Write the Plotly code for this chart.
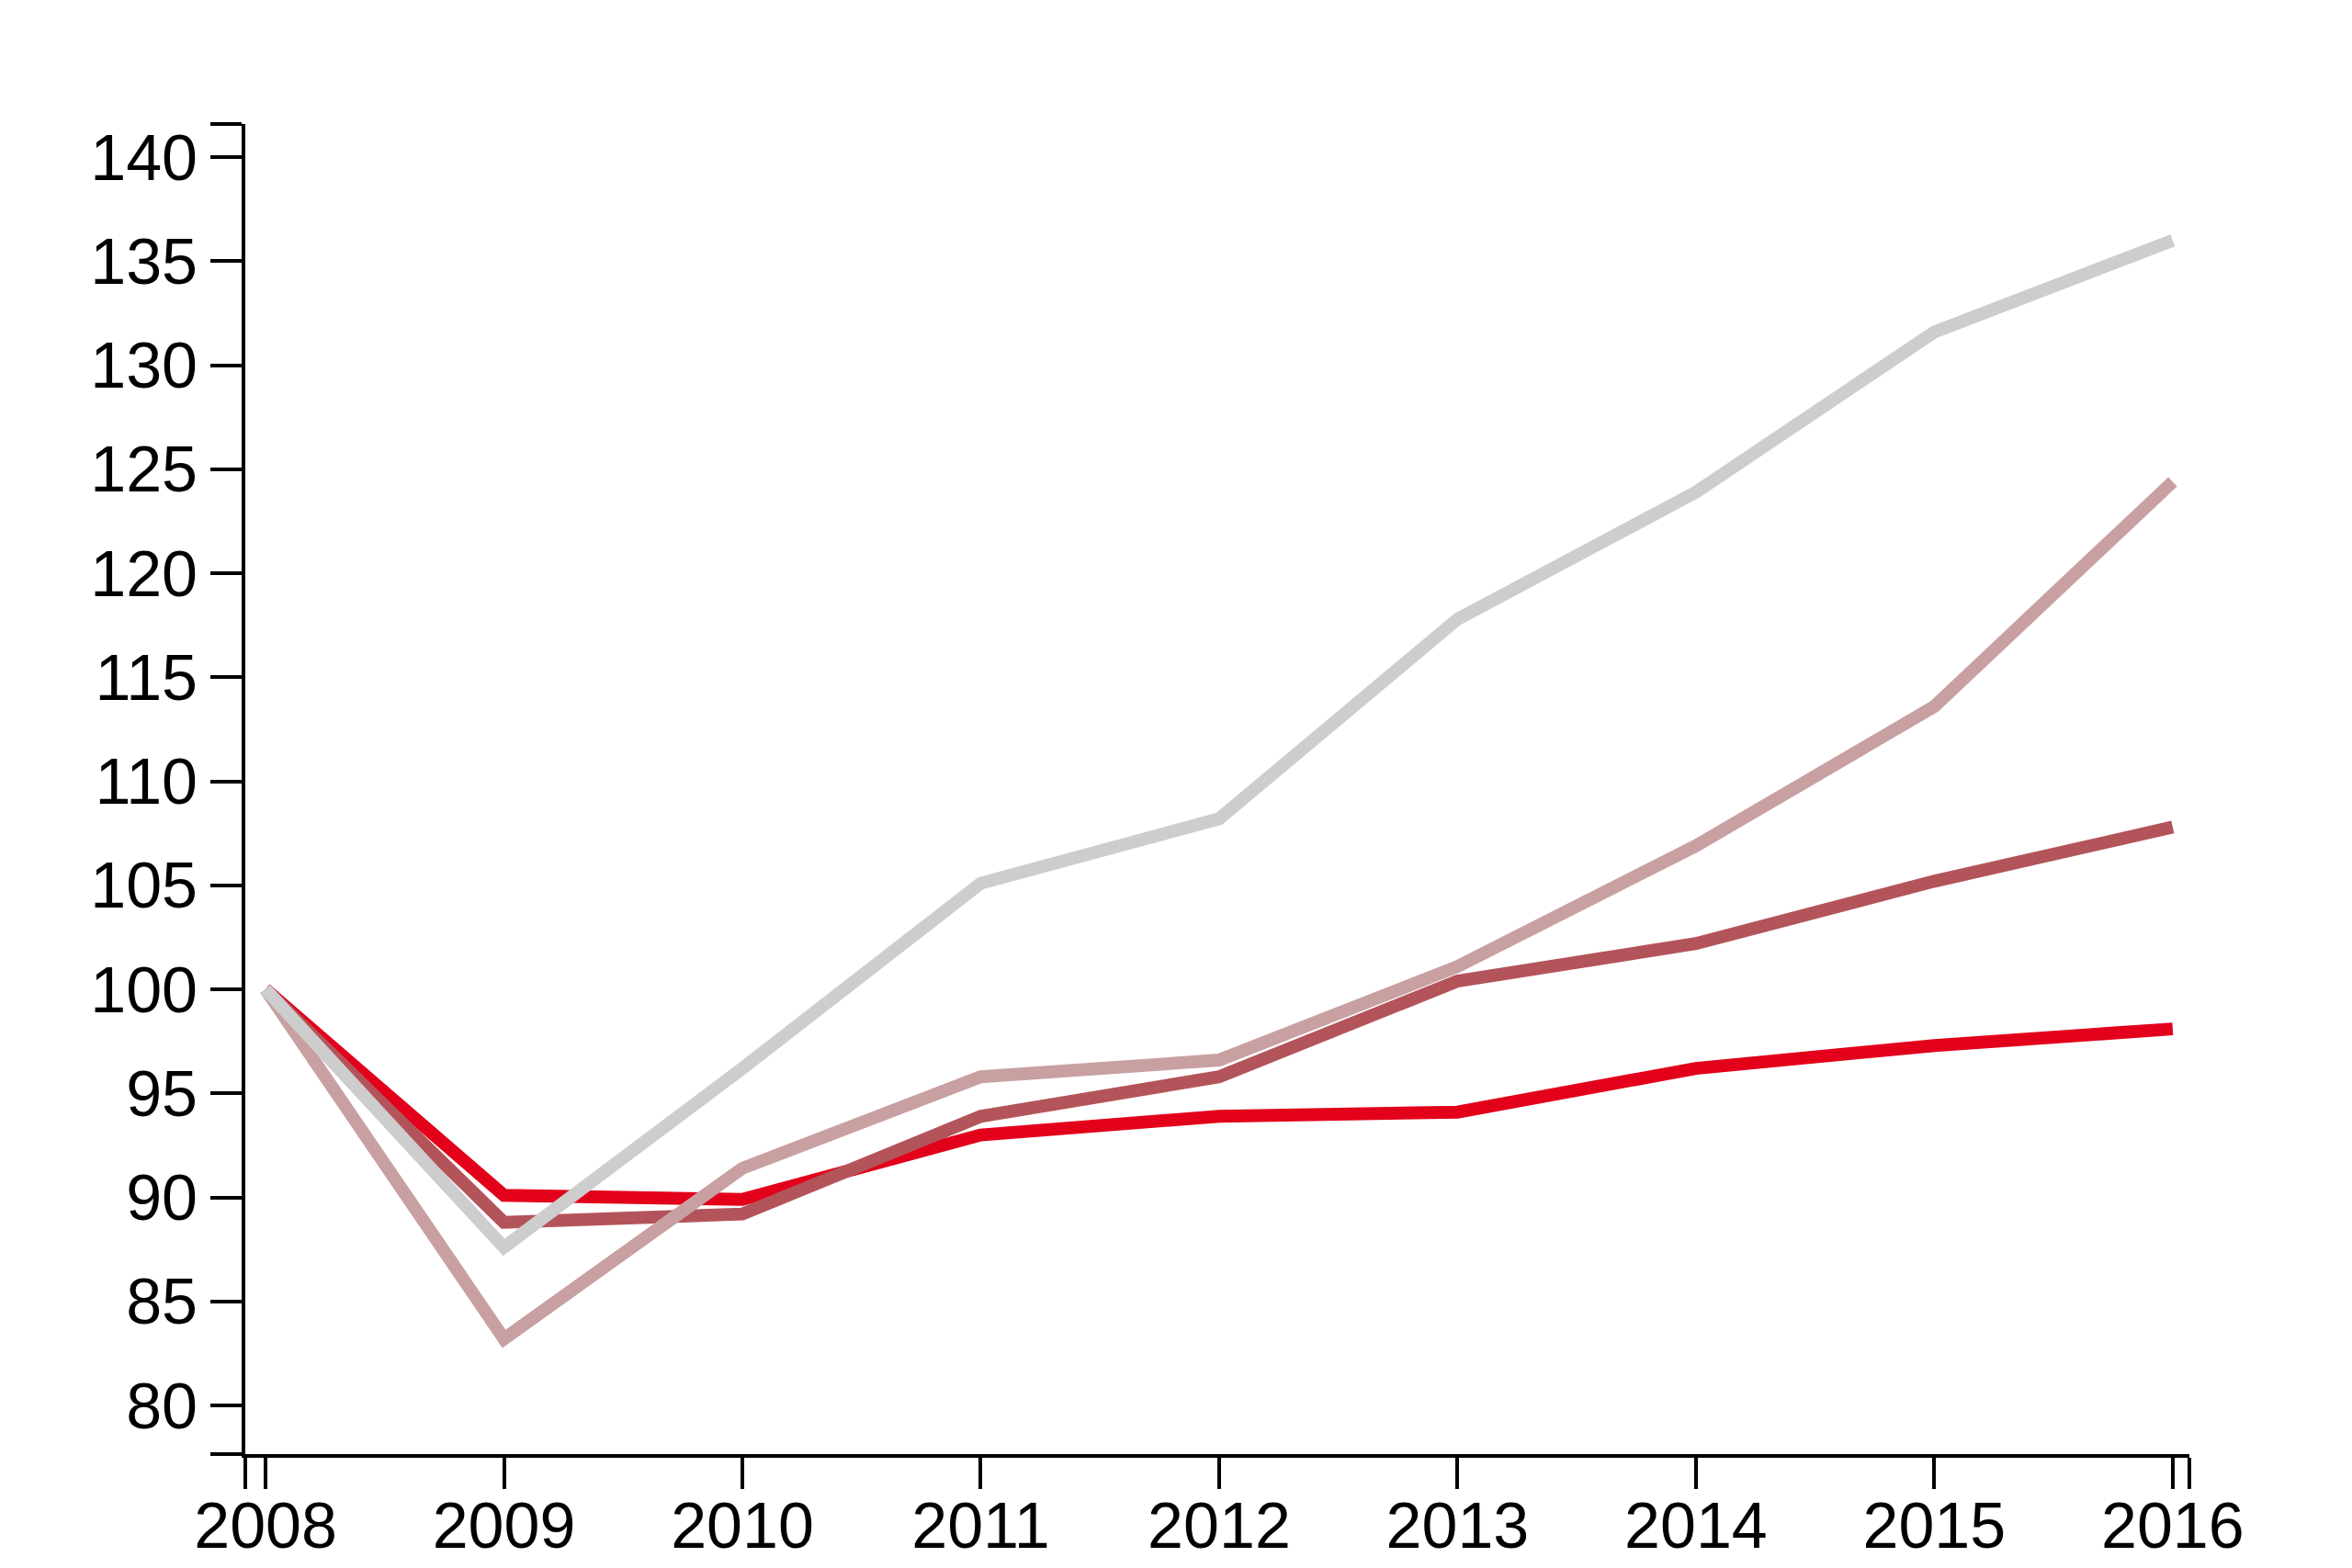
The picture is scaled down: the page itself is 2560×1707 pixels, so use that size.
import plotly.graph_objects as go

years = [2008, 2009, 2010, 2011, 2012, 2013, 2014, 2015, 2016]

series_red = [100, 90.1, 89.9, 93.0, 93.9, 94.1, 96.2, 97.3, 98.1]
series_dark_rose = [100, 88.8, 89.2, 93.9, 95.8, 100.4, 102.2, 105.2, 107.8]
series_light_rose = [100, 83.2, 91.4, 95.8, 96.6, 101.1, 106.9, 113.6, 124.4]
series_grey = [100, 87.6, 96.2, 105.1, 108.2, 117.8, 123.9, 131.6, 136.0]

y_ticks = [80, 85, 90, 95, 100, 105, 110, 115, 120, 125, 130, 135, 140]

x_range = [2007.915, 2016.07]
y_range = [77.66, 141.6]

fig = go.Figure()

order = [
    ("Series A", series_red, "#e2001a"),
    ("Series B", series_dark_rose, "#b3545a"),
    ("Series C", series_light_rose, "#c9a0a2"),
    ("Series D", series_grey, "#cdcdcd"),
]
for name, vals, col in order:
    fig.add_trace(go.Scatter(
        x=years, y=vals, mode="lines", name=name,
        line=dict(color=col, width=14, shape="linear"),
        hoverinfo="skip",
    ))

font_family = "Liberation Sans, Arial, sans-serif"

fig.update_layout(
    width=2552, height=1699,
    margin=dict(l=259, r=177, t=127, b=124, pad=0, autoexpand=False),
    paper_bgcolor="white", plot_bgcolor="white",
    showlegend=False,
    font=dict(family=font_family, size=70, color="black"),
)

fig.update_xaxes(
    range=x_range,
    automargin=False,
    tickmode="array",
    tickvals=[x_range[0]] + years + [x_range[1]],
    ticktext=[""] + [str(y) for y in years] + [""],
    showgrid=False, zeroline=False,
    showline=True, linecolor="black", linewidth=4,
    ticks="outside", ticklen=34, tickwidth=4, tickcolor="black",
    tickfont=dict(family=font_family, size=70, color="black"),
    ticklabelstandoff=-20,
)
fig.update_yaxes(
    range=y_range,
    automargin=False,
    tickmode="array",
    tickvals=[y_range[0]] + y_ticks + [y_range[1]],
    ticktext=[""] + [str(v) for v in y_ticks] + [""],
    showgrid=False, zeroline=False,
    showline=True, linecolor="black", linewidth=4,
    ticks="outside", ticklen=34, tickwidth=4, tickcolor="black",
    tickfont=dict(family=font_family, size=70, color="black"),
    ticklabelstandoff=0,
)

fig.write_html("out.html")
